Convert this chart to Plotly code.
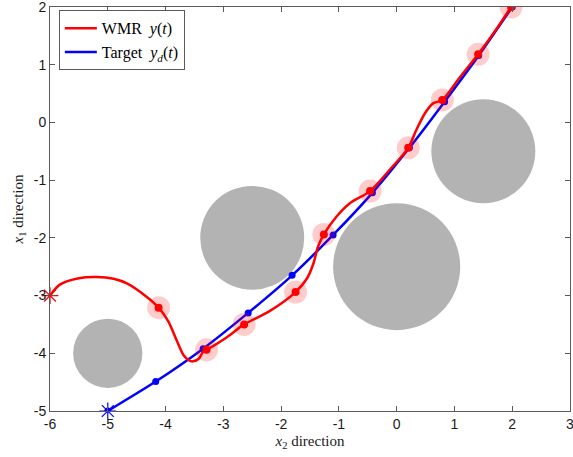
import plotly.graph_objects as go

# Obstacles (centre x2, centre x1, radius)
obs_x = [-5.0, -2.5, 0.0, 1.5]
obs_y = [-4.0, -2.0, -2.5, -0.5]
obs_r = [0.6, 0.9, 1.1, 0.9]

# Target trajectory y_d(t): sample points (markers)
tgt_x = [-5.0, -4.17, -3.35, -2.57, -1.81, -1.10, -0.42, 0.22, 0.83, 1.42, 2.0]
tgt_y = [-5.0, -4.49, -3.92, -3.30, -2.65, -1.95, -1.22, -0.44, 0.36, 1.16, 2.0]

# WMR trajectory y(t): path
wmr_x = [-6.0, -5.83, -5.50, -5.19, -4.90, -4.67, -4.33, -4.12, -3.95, -3.81, -3.69,
         -3.60, -3.53, -3.42, -3.35, -3.29, -2.95, -2.64, -2.20, -1.75, -1.55, -1.44,
         -1.36, -1.26, -1.04, -0.81, -0.46, -0.12, 0.20, 0.34, 0.49, 0.63, 0.79,
         1.10, 1.41, 1.70, 1.98]
wmr_y = [-3.0, -2.81, -2.70, -2.68, -2.71, -2.79, -3.02, -3.21, -3.45, -3.77, -4.03,
         -4.12, -4.14, -4.09, -3.97, -3.94, -3.73, -3.50, -3.27, -2.94, -2.70, -2.44,
         -2.15, -1.94, -1.63, -1.40, -1.19, -0.82, -0.44, -0.13, 0.16, 0.33, 0.39,
         0.79, 1.18, 1.58, 2.0]

# WMR sampled positions (markers)
wmr_mx = [-4.12, -3.29, -2.64, -1.75, -1.26, -0.46, 0.20, 0.79, 1.41, 1.98]
wmr_my = [-3.21, -3.94, -3.50, -2.94, -1.94, -1.19, -0.44, 0.39, 1.18, 2.0]

x_ticks = [-6, -5, -4, -3, -2, -1, 0, 1, 2, 3]
x_labels = ["-6", "-5", "-4", "-3", "-2", "-1", "0", "1", "2", "3"]
y_ticks = [-5, -4, -3, -2, -1, 0, 1, 2]
y_labels = ["-5", "-4", "-3", "-2", "-1", "0", "1", "2"]

RED = "#ff0000"
BLUE = "#0000ff"
GRAY = "#b3b3b3"
AXIS = "#5a5a5a"
SERIF = "Liberation Serif, DejaVu Serif, serif"
SANS = "Liberation Sans, Arial, sans-serif"

fig = go.Figure()

for cx, cy, r in zip(obs_x, obs_y, obs_r):
    fig.add_shape(type="circle", xref="x", yref="y",
                  x0=cx - r, x1=cx + r, y0=cy - r, y1=cy + r,
                  fillcolor=GRAY, line=dict(width=0), layer="below")

# Target line + markers
fig.add_trace(go.Scatter(x=tgt_x, y=tgt_y, mode="lines+markers",
                         line=dict(color=BLUE, width=2.5, shape="spline", smoothing=0.6),
                         marker=dict(color=BLUE, size=7), showlegend=False,
                         hoverinfo="skip"))
# WMR line
fig.add_trace(go.Scatter(x=wmr_x, y=wmr_y, mode="lines",
                         line=dict(color=RED, width=2.5, shape="spline", smoothing=0.8),
                         showlegend=False, hoverinfo="skip"))
# pink halos
fig.add_trace(go.Scatter(x=wmr_mx, y=wmr_my, mode="markers",
                         marker=dict(color="rgba(255,0,0,0.2)", size=23, line=dict(width=0)),
                         showlegend=False, hoverinfo="skip"))
# red markers
fig.add_trace(go.Scatter(x=wmr_mx, y=wmr_my, mode="markers",
                         marker=dict(color=RED, size=8), showlegend=False,
                         hoverinfo="skip"))
# start asterisks
fig.add_trace(go.Scatter(x=[wmr_x[0]], y=[wmr_y[0]], mode="markers",
                         marker=dict(symbol="asterisk-open", size=14, color=RED,
                                     line=dict(color=RED, width=1.2)),
                         cliponaxis=False, showlegend=False, hoverinfo="skip"))
fig.add_trace(go.Scatter(x=[tgt_x[0]], y=[tgt_y[0]], mode="markers",
                         marker=dict(symbol="asterisk-open", size=14, color=BLUE,
                                     line=dict(color=BLUE, width=1.2)),
                         cliponaxis=False, showlegend=False, hoverinfo="skip"))

# legend entries
fig.add_trace(go.Scatter(x=[None], y=[None], mode="lines",
                         line=dict(color=RED, width=2.5),
                         name="WMR&nbsp;&nbsp;<i>y</i>(<i>t</i>)"))
fig.add_trace(go.Scatter(x=[None], y=[None], mode="lines",
                         line=dict(color=BLUE, width=2.5),
                         name="Target&nbsp;&nbsp;<i>y<sub>d</sub></i>(<i>t</i>)"))

axis_common = dict(showgrid=False, zeroline=False, showline=True,
                   linecolor=AXIS, linewidth=1, mirror="ticks",
                   ticks="inside", ticklen=5, tickcolor=AXIS,
                   ticklabeloverflow="allow",
                   tickfont=dict(family=SANS, size=14, color="#1a1a1a"))

fig.update_xaxes(range=[-6, 3], tickvals=x_ticks, ticktext=x_labels,
                 title=dict(text="<i>x</i><sub>2</sub> direction",
                            font=dict(family=SERIF, size=15, color="#1a1a1a"),
                            standoff=4),
                 **axis_common)
fig.update_yaxes(range=[-5, 2], tickvals=y_ticks, ticktext=y_labels,
                 title=dict(text="<i>x</i><sub>1</sub> direction",
                            font=dict(family=SERIF, size=15, color="#1a1a1a"),
                            standoff=6),
                 **axis_common)

fig.update_layout(
    width=573, height=457,
    margin=dict(l=50, r=3, t=7, b=46, autoexpand=False),
    plot_bgcolor="white", paper_bgcolor="white",
    legend=dict(x=0.017, y=0.992, xanchor="left", yanchor="top",
                bgcolor="white", bordercolor=AXIS, borderwidth=1,
                font=dict(family=SERIF, size=16, color="#000000"),
                tracegroupgap=0, itemwidth=32),
)

fig.write_html("out.html",
               config={"displayModeBar": False, "staticPlot": True},
               post_script="document.body.style.margin='0';document.body.style.overflow='hidden';")
